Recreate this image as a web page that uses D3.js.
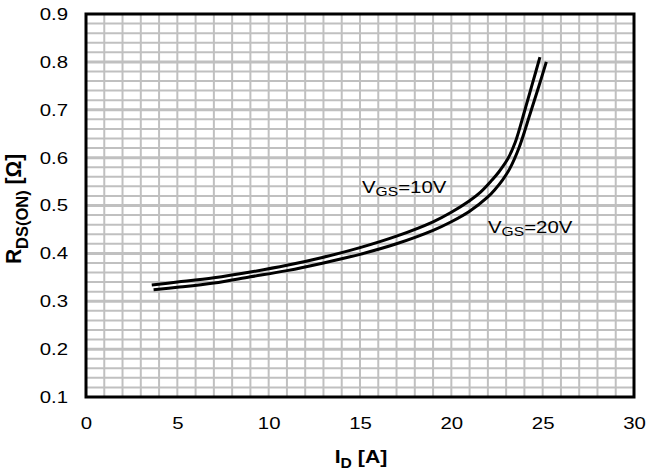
<!DOCTYPE html>
<html><head><meta charset="utf-8">
<script src="https://cdn.jsdelivr.net/npm/d3@7"></script>
<style>body{margin:0;background:#fff}svg text{font-family:"Liberation Sans",Arial,sans-serif}</style>
</head><body><svg id="c" width="649" height="474"></svg>
<script>
const xTicks = [0,5,10,15,20,25,30];
const yTicks = [0.1,0.2,0.3,0.4,0.5,0.6,0.7,0.8,0.9];
const id10 = [3.6,5,7,9,11,13,15,17,19,20,21,21.6,22.2,22.6,23.1,23.5,24.03,24.45,24.85];
const r10  = [0.334,0.340,0.349,0.361,0.375,0.392,0.412,0.436,0.466,0.486,0.510,0.528,0.552,0.570,0.598,0.632,0.700,0.756,0.810];
const id20 = [3.7,5,7,9,11,13,15,17,19,20,21,22,22.4,22.8,23.2,23.7,24.3,24.8,25.2];
const r20  = [0.324,0.329,0.338,0.351,0.364,0.380,0.398,0.420,0.448,0.466,0.488,0.518,0.534,0.553,0.577,0.620,0.690,0.750,0.800];

const svg = d3.select("#c");
const L=86,R=634,T=14,B=397;
const K=1.2;
const x = d3.scaleLinear().domain([0,30]).range([L,R]);
const y = d3.scaleLinear().domain([0.1,0.9]).range([B,T]);
const grid="#c0c0c0";
svg.append("g").selectAll("line").data(d3.range(1,30)).join("line")
  .attr("x1",d=>x(d)).attr("x2",d=>x(d)).attr("y1",T).attr("y2",B)
  .attr("stroke",grid).attr("stroke-width",2);
svg.append("g").selectAll("line").data(d3.range(1,40).map(i=>0.1+i*0.02)).join("line")
  .attr("x1",L).attr("x2",R).attr("y1",d=>y(d)).attr("y2",d=>y(d))
  .attr("stroke",grid).attr("stroke-width",(d,i)=>((i+1)%5===0)?3:2);
svg.append("rect").attr("x",L).attr("y",T).attr("width",R-L).attr("height",B-T)
  .attr("fill","none").attr("stroke","#000").attr("stroke-width",3);
const FS=17;
const xa = d3.axisBottom(x).tickValues(xTicks).tickSize(0).tickPadding(20);
svg.append("g").attr("transform",`translate(0,${B})`).call(xa)
  .call(g=>g.select(".domain").remove())
  .call(g=>g.selectAll("text").attr("font-size",FS).attr("fill","#000")
     .style("font-family","Liberation Sans, Arial, sans-serif").attr("transform",`scale(${K},1)`));
const ya = d3.axisLeft(y).tickValues(yTicks).tickFormat(d3.format(".1f")).tickSize(0).tickPadding(18);
svg.append("g").attr("transform",`translate(${L},0)`).call(ya)
  .call(g=>g.select(".domain").remove())
  .call(g=>g.selectAll("text").attr("font-size",FS).attr("fill","#000").attr("x",-18/K)
     .style("font-family","Liberation Sans, Arial, sans-serif").attr("transform",`scale(${K},1)`));
const line = d3.line().x(d=>x(d[0])).y(d=>y(d[1])).curve(d3.curveCatmullRom.alpha(0.5));
[[id10,r10],[id20,r20]].forEach(([xs,ys])=>{
  svg.append("path").datum(xs.map((v,i)=>[v,ys[i]])).attr("d",line)
   .attr("fill","none").attr("stroke","#000").attr("stroke-width",3);
});
function vgs(tx,ty,val){
  const t=svg.append("text").attr("transform",`translate(${tx},${ty}) scale(${K},1)`)
    .attr("font-size",FS).attr("fill","#000");
  t.append("tspan").text("V");
  t.append("tspan").attr("font-size",13).attr("dy",3).text("GS");
  t.append("tspan").attr("dy",-3).text("="+val);
}
vgs(362,193,"10V");
vgs(488,233,"20V");
const xt=svg.append("text").attr("transform",`translate(361,463) scale(1.12,1)`).attr("text-anchor","middle")
  .attr("font-size",19).attr("font-weight","bold");
xt.append("tspan").text("I");
xt.append("tspan").attr("font-size",14).attr("dy",5).text("D");
xt.append("tspan").attr("dy",-5).text(" [A]");
const yt=svg.append("text").attr("transform","translate(21,264) rotate(-90) scale(1.1,1.15)").attr("text-anchor","start")
  .attr("font-size",19).attr("font-weight","bold");
yt.append("tspan").text("R");
yt.append("tspan").attr("font-size",15).attr("dy",6).text("DS(ON)");
yt.append("tspan").attr("dy",-6).text(" [Ω]");
</script></body></html>
